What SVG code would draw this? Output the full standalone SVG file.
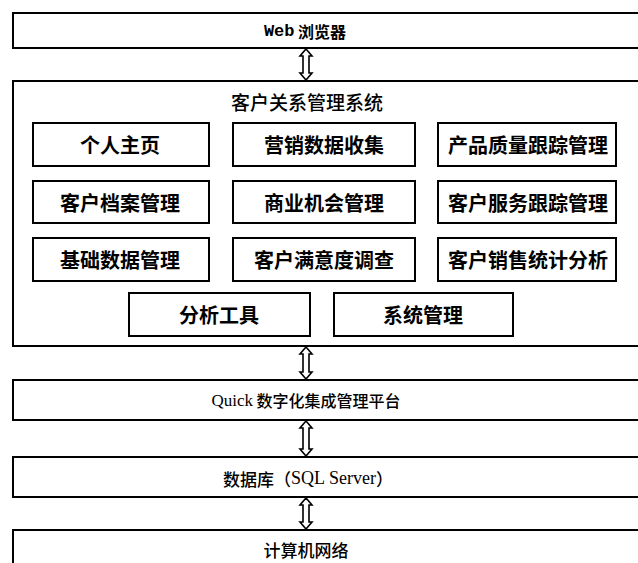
<svg xmlns="http://www.w3.org/2000/svg" width="638" height="563" viewBox="0 0 638 563">
<style>
.box{fill:#fff;stroke:#000;stroke-width:2}
.mod{fill:#fff;stroke:#000;stroke-width:2}
.t{font-family:"Noto Sans CJK SC","Noto Sans",sans-serif;text-anchor:middle;dominant-baseline:central;fill:#000}
.m{font-size:20px;font-weight:bold}
.arr{fill:#fff;stroke:#000;stroke-width:1.6;stroke-linejoin:miter}
</style>
<rect width="638" height="563" fill="#fff"/>
<g id="web">
<rect class="box" x="13" y="13" width="640" height="35"/>
<text class="t" x="305" y="31" style="font-size:16px;font-weight:bold"><tspan style="font-family:'Liberation Mono',monospace;font-size:17px">Web</tspan> 浏览器</text>
</g>
<g id="crm">
<rect class="box" x="13" y="81" width="640" height="265"/>
<text class="t" x="307" y="101" style="font-size:19px;font-weight:500">客户关系管理系统</text>
</g>
<g id="m1"><rect class="mod" x="33" y="123" width="176" height="43"/><text class="t m" x="120" y="144">个人主页</text></g>
<g id="m2"><rect class="mod" x="233" y="123" width="182" height="43"/><text class="t m" x="324" y="144">营销数据收集</text></g>
<g id="m3"><rect class="mod" x="438" y="123" width="178" height="43"/><text class="t m" x="528" y="144">产品质量跟踪管理</text></g>
<g id="m4"><rect class="mod" x="33" y="181" width="176" height="42"/><text class="t m" x="120" y="202">客户档案管理</text></g>
<g id="m5"><rect class="mod" x="233" y="181" width="182" height="42"/><text class="t m" x="324" y="202">商业机会管理</text></g>
<g id="m6"><rect class="mod" x="438" y="181" width="178" height="42"/><text class="t m" x="528" y="202">客户服务跟踪管理</text></g>
<g id="m7"><rect class="mod" x="33" y="238" width="176" height="43"/><text class="t m" x="120" y="259">基础数据管理</text></g>
<g id="m8"><rect class="mod" x="233" y="238" width="182" height="43"/><text class="t m" x="324" y="259">客户满意度调查</text></g>
<g id="m9"><rect class="mod" x="438" y="238" width="178" height="43"/><text class="t m" x="528" y="259">客户销售统计分析</text></g>
<g id="m10"><rect class="mod" x="129" y="293" width="181" height="43"/><text class="t m" x="219" y="314">分析工具</text></g>
<g id="m11"><rect class="mod" x="334" y="293" width="179" height="43"/><text class="t m" x="423" y="314">系统管理</text></g>
<g id="quick">
<rect class="box" x="13" y="380" width="640" height="40"/>
<text class="t" x="306" y="400" style="font-size:16px;font-weight:500"><tspan style="font-family:'Liberation Serif',serif;font-size:17px">Quick</tspan> 数字化集成管理平台</text>
</g>
<g id="db">
<rect class="box" x="13" y="457" width="640" height="40"/>
<text class="t" x="308" y="478" style="font-size:17px;font-weight:500">数据库（<tspan style="font-family:'Liberation Serif',serif;font-size:18px">SQL Server</tspan>）</text>
</g>
<g id="net">
<rect class="box" x="13" y="530" width="640" height="60"/>
<text class="t" x="306" y="549" style="font-size:17px;font-weight:500">计算机网络</text>
</g>
<g id="connectors">
<polygon class="arr" points="306,49 312,56 309,56 309,73 312,73 306,80 300,73 303,73 303,56 300,56"/>
<polygon class="arr" points="306,347 312,354 309,354 309,372 312,372 306,379 300,372 303,372 303,354 300,354"/>
<polygon class="arr" points="306,421 312,428 309,428 309,449 312,449 306,456 300,449 303,449 303,428 300,428"/>
<polygon class="arr" points="306,498 312,505 309,505 309,522 312,522 306,529 300,522 303,522 303,505 300,505"/>
</g>
</svg>
